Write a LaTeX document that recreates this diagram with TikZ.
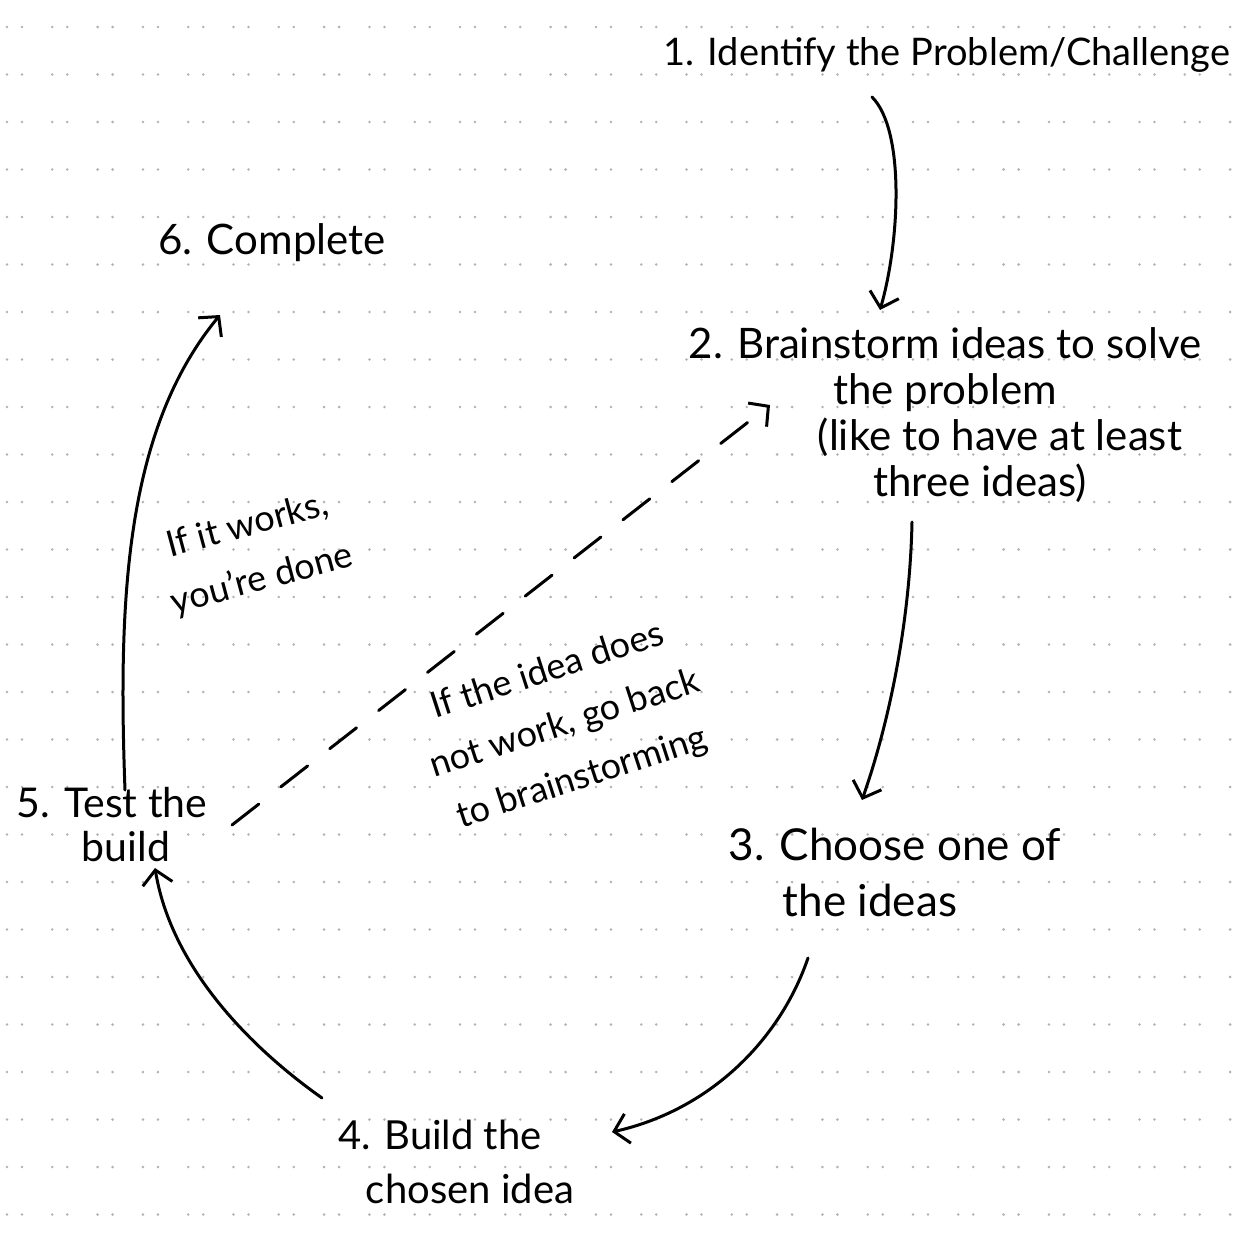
\documentclass[tikz,border=0pt]{standalone}
\usepackage{fontspec}
\setmainfont{Lato}
\usetikzlibrary{arrows.meta,calc}
\begin{document}
\begin{tikzpicture}[x=1pt,y=-1pt,
  hand/.style={align=center,inner sep=0pt,text=black},
  fa/.style={font=\fontsize{36}{56}\selectfont},
  fb/.style={font=\fontsize{38}{45}\selectfont},
  ftwo/.style={font=\fontsize{42}{46}\selectfont},
  fthree/.style={font=\fontsize{44}{56}\selectfont},
  ffour/.style={font=\fontsize{40}{54}\selectfont},
  ffive/.style={font=\fontsize{41}{44}\selectfont},
  fc/.style={font=\fontsize{42}{54}\selectfont},
  conn/.style={line width=3pt,line cap=round,-{Straight Barb[length=14pt,width=30pt]}},
  dashconn/.style={conn,dash pattern=on 34pt off 28pt},
  dotc/.style={fill=black!30}]
\useasboundingbox (0,0) rectangle (1239,1247);
\fill[white] (0,0) rectangle (1239,1247);
% dot grid
\foreach \k in {0,...,26}{
  \foreach \j in {0,...,27}{
    \fill[dotc] ({7+45.3*\j},{27+47.5*\k}) circle (1.4);
    \fill[dotc] ({22+45.3*\j},{27+47.5*\k}) circle (1.4);
  }
}
% nodes
\node[hand,fb] (n1) at (947,55) {1. Identify the Problem/Challenge};
\node[hand,ftwo] (n2) at (945,415) {2. Brainstorm ideas to solve\\the problem\hspace*{86pt}\\\hspace*{110pt}(like to have at least\\\hspace*{70pt}three ideas)};
\node[hand,fthree] (n3) at (895,872) {3. Choose one of\\the ideas\hspace*{50pt}};
\node[hand,ffour] (n4) at (455,1162) {4. Build the\hspace*{30pt}\\\hspace*{30pt}chosen idea};
\node[hand,ffive] (n5) at (112,825) {5. Test the\\\hspace*{28pt}build};
\node[hand,fc] (n6) at (272,243) {6. Complete};
\node[hand,fa,rotate=15] (l1) at (255,553) {If it works,\\you're done};
\node[hand,fa,rotate=18] (l2) at (565,725) {If the idea does\\not work, go back\\to brainstorming};
% connectors
\draw[conn] ($(n1)+(-75,42)$) .. controls (905,130) and (900,240) .. ($(n2)+(-65,-105)$);
\draw[conn] ($(n2)+(-33,107)$) .. controls (910,620) and (890,720) .. ($(n3)+(-33,-72)$);
\draw[conn] ($(n3)+(-87,86)$) .. controls (780,1040) and (710,1110) .. ($(n4)+(157,-30)$);
\draw[conn] ($(n4)+(-133,-64)$) .. controls (240,1040) and (170,960) .. ($(n5)+(43,43)$);
\draw[conn] ($(n5)+(13,-35)$) .. controls (118,600) and (125,430) .. ($(n6)+(-52,72)$);
\draw[dashconn] ($(n5)+(120,0)$) -- ($(n2)+(-175,-10)$);
\end{tikzpicture}
\end{document}
